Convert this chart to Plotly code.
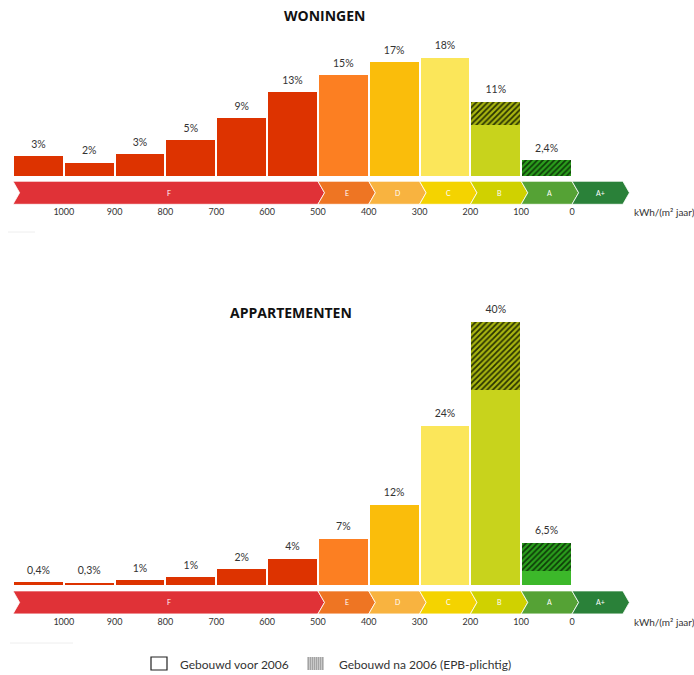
import plotly.graph_objects as go

# ---------------- data ----------------
bin_centers = [1050, 950, 850, 750, 650, 550, 450, 350, 250, 150, 50]
tick_vals = [1000, 900, 800, 700, 600, 500, 400, 300, 200, 100, 0]
tick_text = ["1000", "900", "800", "700", "600", "500", "400", "300", "200", "100", "0"]

woningen_voor = [3, 2, 3.3, 5.4, 8.8, 12.7, 15.3, 17.3, 18, 7.7, 0]
woningen_na = [0, 0, 0, 0, 0, 0, 0, 0, 0, 3.6, 2.4]
woningen_labels = ["3%", "2%", "3%", "5%", "9%", "13%", "15%", "17%", "18%", "11%", "2,4%"]

app_voor = [0.4, 0.3, 0.7, 1.2, 2.4, 4, 7, 12.2, 24.2, 29.6, 2.1]
app_na = [0, 0, 0, 0, 0, 0, 0, 0, 0, 10.4, 4.3]
app_labels = ["0,4%", "0,3%", "1%", "1%", "2%", "4%", "7%", "12%", "24%", "40%", "6,5%"]

bar_colors_top = ["#dd3300"] * 6 + ["#fc7f22", "#fabd0b", "#fbe65a", "#c8d31c", "#2aa61c"]
bar_colors_bot = ["#dd3300"] * 6 + ["#fc7f22", "#fabd0b", "#fbe65a", "#c8d31c", "#3cb82a"]
hatch_bg = ["#dd3300"] * 6 + ["#fc7f22", "#fabd0b", "#fbe65a", "#a9b510", "#2a9f1c"]
hatch_fg = ["#333333"] * 9 + ["#1a2400", "#0a3005"]

classes = ["F", "E", "D", "C", "B", "A", "A+"]
class_bounds = [1100, 500, 400, 300, 200, 100, 0, -100]
class_colors = ["#e03237", "#ee7523", "#f8b340", "#f4d300", "#d0d100", "#55a235", "#2a8139"]

W, H = 694, 675
PXU = 6.58  # px per percent

fig = go.Figure()

def add_panel(voor, na, labels, colors, xa, ya):
    fig.add_trace(go.Bar(x=bin_centers, y=voor, width=96, marker=dict(color=colors, line=dict(width=0)),
                         xaxis=xa, yaxis=ya, showlegend=False, hoverinfo="skip"))
    for i, v in enumerate(na):
        if v <= 0:
            continue
        fig.add_trace(go.Bar(x=[bin_centers[i]], y=[v], base=[voor[i]], width=96,
                             marker=dict(color=hatch_bg[i], line=dict(width=0),
                                         pattern=dict(shape="/", fgcolor=hatch_fg[i], bgcolor=hatch_bg[i],
                                                      fgopacity=0.9, size=4, solidity=0.45,
                                                      fillmode="replace")),
                             xaxis=xa, yaxis=ya, showlegend=False, hoverinfo="skip"))
    totals = [v + n for v, n in zip(voor, na)]
    fig.add_trace(go.Scatter(x=bin_centers, y=[t + 0.9 for t in totals], mode="text", text=labels,
                             textposition="top center",
                             textfont=dict(family="Lato", size=10.5, color="#333333"),
                             xaxis=xa, yaxis=ya, showlegend=False, hoverinfo="skip", cliponaxis=False))

add_panel(woningen_voor, woningen_na, woningen_labels, bar_colors_top, "x", "y")
add_panel(app_voor, app_na, app_labels, bar_colors_bot, "x2", "y2")

def px(x): return x / W
def py(y): return 1 - y / H

# arrow bands
shapes = []
annotations = []
tip = 13
for xr, yr, ytop, ybot, unit_y in [("x", "y", -0.8, -4.3, 212), ("x2", "y2", -0.9, -4.4, 622)]:
    ymid = (ytop + ybot) / 2
    for i, cls in enumerate(classes):
        a, b = class_bounds[i], class_bounds[i + 1]
        path = (f"M {a},{ytop} L {b},{ytop} L {b - tip},{ymid} L {b},{ybot} "
                f"L {a},{ybot} L {a - tip},{ymid} Z")
        shapes.append(dict(type="path", path=path, xref=xr, yref=yr, fillcolor=class_colors[i],
                           line=dict(color="white", width=0.8), layer="above"))
        annotations.append(dict(x=(a + b) / 2 - tip / 2, y=ymid, xref=xr, yref=yr, text=cls,
                                showarrow=False, font=dict(family="Lato", size=7, color="white")))
    annotations.append(dict(x=px(632), y=py(unit_y), xref="paper", yref="paper", text="kWh/(m² jaar)",
                            xanchor="left", yanchor="middle", showarrow=False,
                            font=dict(family="Lato", size=10, color="#333333")))

# titles
annotations.append(dict(x=px(324), y=py(16), xref="paper", yref="paper", text="<b>WONINGEN</b>",
                        yanchor="middle", showarrow=False, font=dict(family="Open Sans", size=14, color="#111")))
annotations.append(dict(x=px(291), y=py(312), xref="paper", yref="paper", text="<b>APPARTEMENTEN</b>",
                        yanchor="middle", showarrow=False, font=dict(family="Open Sans", size=14, color="#111")))

# faint decorative lines
shapes.append(dict(type="line", xref="paper", yref="paper", x0=px(8), x1=px(35), y0=py(232), y1=py(232),
                   line=dict(color="#eeeeee", width=1)))
shapes.append(dict(type="line", xref="paper", yref="paper", x0=px(10), x1=px(73), y0=py(643), y1=py(643),
                   line=dict(color="#eeeeee", width=1)))

# legend
shapes.append(dict(type="rect", xref="paper", yref="paper", x0=px(151), x1=px(167), y0=py(670), y1=py(657),
                   fillcolor="white", line=dict(color="#222", width=1.2)))
shapes.append(dict(type="rect", xref="paper", yref="paper", x0=px(307), x1=px(324), y0=py(670), y1=py(657),
                   fillcolor="#c9c9c9", line=dict(width=0)))
for k in range(8):
    xx = 308.5 + k * 2
    shapes.append(dict(type="line", xref="paper", yref="paper", x0=px(xx), x1=px(xx), y0=py(670), y1=py(657),
                       line=dict(color="#9a9a9a", width=0.8)))
annotations.append(dict(x=px(178), y=py(664), xref="paper", yref="paper", text="Gebouwd voor 2006",
                        xanchor="left", yanchor="middle", showarrow=False,
                        font=dict(family="Lato", size=12, color="#333333")))
annotations.append(dict(x=px(337), y=py(664), xref="paper", yref="paper", text="Gebouwd na 2006 (EPB-plichtig)",
                        xanchor="left", yanchor="middle", showarrow=False,
                        font=dict(family="Lato", size=12, color="#333333")))

xrange = [1100 + 13 / (559 / 1100), -(W - 572) / (559 / 1100)]
xcommon = dict(range=xrange, tickvals=tick_vals, ticktext=tick_text, showgrid=False, zeroline=False,
               showline=False, ticks="", tickfont=dict(family="Lato", size=9, color="#333333"), fixedrange=True)

top_area = (30, 205, 176)
bot_area = (300, 615, 585)

def yax(area, anchor):
    t, b, base = area
    return dict(domain=[1 - b / H, 1 - t / H], range=[-(b - base) / PXU, (base - t) / PXU],
                visible=False, anchor=anchor, fixedrange=True)

fig.update_layout(
    width=W, height=H, margin=dict(l=0, r=0, t=0, b=0),
    paper_bgcolor="white", plot_bgcolor="white", barmode="overlay", bargap=0,
    xaxis=dict(**xcommon, anchor="y"),
    xaxis2=dict(**xcommon, anchor="y2"),
    yaxis=yax(top_area, "x"),
    yaxis2=yax(bot_area, "x2"),
    shapes=shapes, annotations=annotations, showlegend=False,
)

fig.write_html("out.html")
